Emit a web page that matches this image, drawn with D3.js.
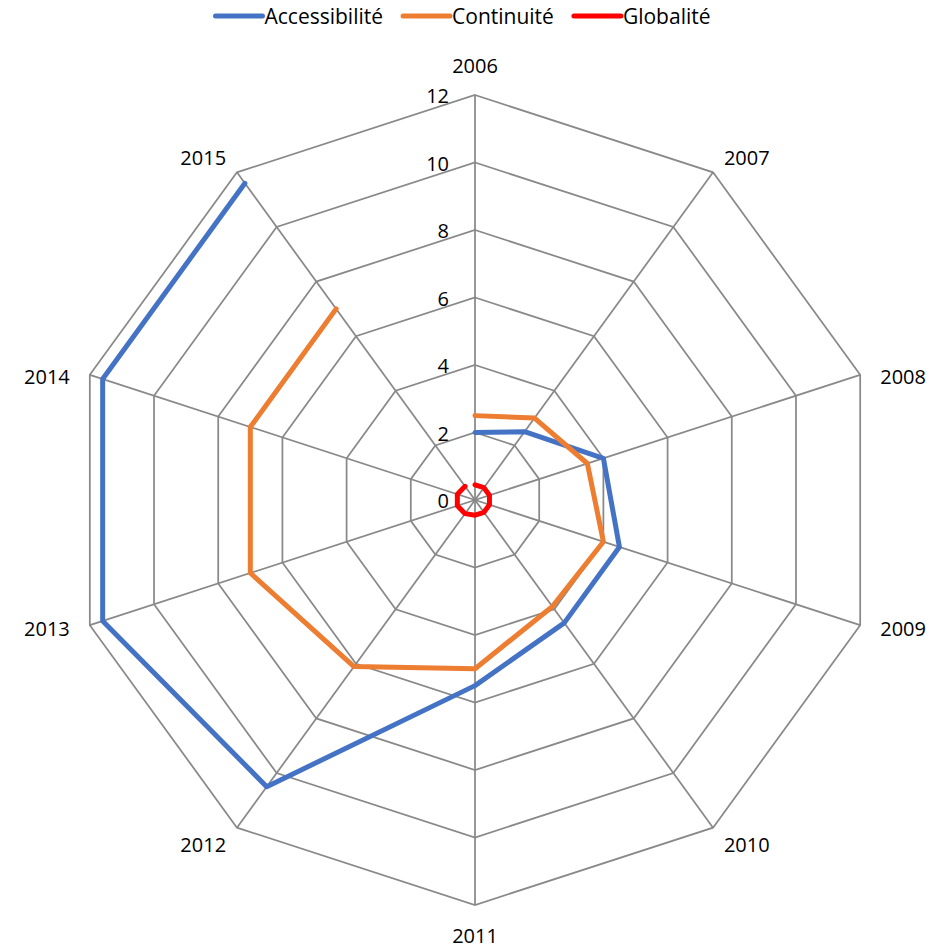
<!DOCTYPE html>
<html>
<head>
<meta charset="utf-8">
<script src="https://cdn.jsdelivr.net/npm/d3@7"></script>
<style>
  body { margin: 0; background: #fff; }
  text { font-family: "Open Sans", sans-serif; fill: #000; }
</style>
</head>
<body>
<div id="my_dataviz"></div>
<script>
// categories (one spoke per year)
var years = ["2006", "2007", "2008", "2009", "2010", "2011", "2012", "2013", "2014", "2015"];

// series values
var accessibilite = [2.0, 2.5, 4.0, 4.5, 4.5, 5.5, 10.5, 11.6, 11.6, 11.6];
var continuite = [2.5, 3.0, 3.5, 4.0, 3.9, 5.0, 6.1, 7.0, 7.0, 7.0];
var globalite = [0.45, 0.45, 0.45, 0.45, 0.45, 0.45, 0.5, 0.55, 0.55, 0.5];

// radial axis ticks
var tickValues = [0, 2, 4, 6, 8, 10, 12];

var seriesNames = ["Accessibilité", "Continuité", "Globalité"];
var seriesColors = ["#4472C4", "#ED7D31", "#FF0000"];
var seriesData = [accessibilite, continuite, globalite];

var width = 939, height = 951;
var cx = 475, cy = 500;

var svg = d3.select("#my_dataviz")
    .append("svg")
        .attr("width", width)
        .attr("height", height);

svg.append("rect")
    .attr("width", width)
    .attr("height", height)
    .attr("fill", "#fff");

var r = d3.scaleLinear()
    .domain([0, 12])
    .range([0, 405]);

var angle = d3.scaleLinear()    // lineRadial: angle 0 is straight up, clockwise
    .domain([0, years.length])
    .range([0, 2 * Math.PI]);

var chart = svg.append("g")
    .attr("transform", "translate(" + cx + "," + cy + ")");

// grid rings (skip 0)
var ring = d3.lineRadial()
    .angle(function(d, i) { return angle(i); })
    .radius(function(d) { return r(d); })
    .curve(d3.curveLinearClosed);

chart.append("g")
    .selectAll("path")
    .data(tickValues.filter(function(t) { return t > 0; }))
    .enter().append("path")
        .attr("d", function(t) { return ring(years.map(function() { return t; })); })
        .attr("fill", "none")
        .attr("stroke", "#898989")
        .attr("stroke-width", 1.75);

// spokes
chart.append("g")
    .selectAll("line")
    .data(years)
    .enter().append("line")
        .attr("x1", 0)
        .attr("y1", 0)
        .attr("x2", function(d, i) { return r(12) * Math.sin(angle(i)); })
        .attr("y2", function(d, i) { return -r(12) * Math.cos(angle(i)); })
        .attr("stroke", "#898989")
        .attr("stroke-width", 1.75);

// tick labels up the first spoke
chart.append("g")
    .selectAll("text")
    .data(tickValues)
    .enter().append("text")
        .attr("x", -26)
        .attr("y", function(t) { return -r(t) + 8; })
        .attr("text-anchor", "end")
        .attr("font-size", 20)
        .text(function(t) { return t; });

// year labels around the outside
chart.append("g")
    .selectAll("text")
    .data(years)
    .enter().append("text")
        .attr("x", function(d, i) {
            var s = Math.sin(angle(i));
            var off = Math.abs(s) < 1e-6 ? 0 : Math.sign(s) * 44 * Math.sqrt(Math.abs(s));
            return r(12) * s + off;
        })
        .attr("y", function(d, i) {
            var c = Math.cos(angle(i));
            var k = c < 0 ? 28 : 32;    // keep the bottom label inside the frame
            return -r(12) * c - k * Math.pow(c, 3) + 3 + 7;
        })
        .attr("text-anchor", "middle")
        .attr("font-size", 20)
        .text(function(d) { return d; });

// series lines (Excel leaves them open between 2015 and 2006)
var line = d3.lineRadial()
    .angle(function(d, i) { return angle(i); })
    .radius(function(d) { return r(d); });

chart.append("g")
    .selectAll("path")
    .data(seriesData)
    .enter().append("path")
        .attr("d", function(d) { return line(d); })
        .attr("fill", "none")
        .attr("stroke", function(d, i) { return seriesColors[i]; })
        .attr("stroke-width", 5)
        .attr("stroke-linejoin", "round")
        .attr("stroke-linecap", "round");

// legend on top, centred
var legend = svg.append("g");
var x = 0;
seriesNames.forEach(function(name, i) {
    var item = legend.append("g").attr("transform", "translate(" + x + ",0)");
    item.append("line")
        .attr("x1", 0)
        .attr("x2", 47)
        .attr("y1", 16)
        .attr("y2", 16)
        .attr("stroke", seriesColors[i])
        .attr("stroke-width", 5)
        .attr("stroke-linecap", "round");
    var t = item.append("text")
        .attr("x", 49)
        .attr("y", 24)
        .attr("font-size", 21)
        .text(name);
    x += 49 + t.node().getComputedTextLength() + 20;
});
var legendWidth = x - 20;
legend.attr("transform", "translate(" + (463 - legendWidth / 2) + ",0)");
</script>
</body>
</html>
